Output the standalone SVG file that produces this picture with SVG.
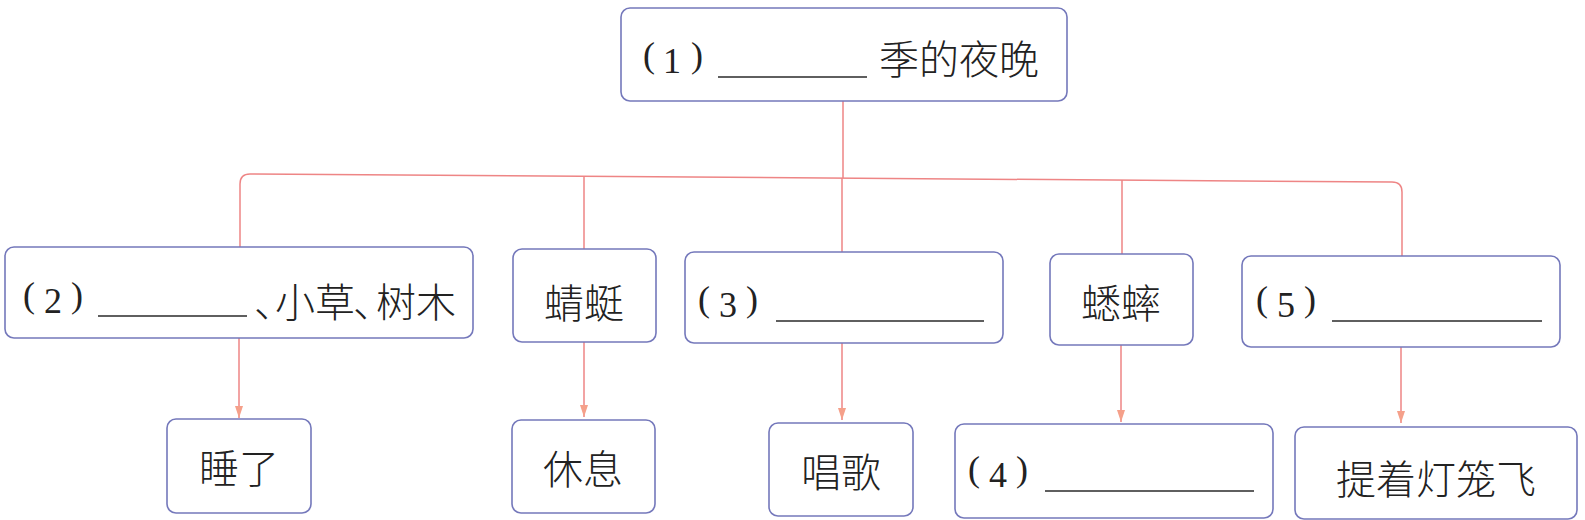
<svg xmlns="http://www.w3.org/2000/svg" width="1585" height="520" viewBox="0 0 1585 520">
<defs>
<style>
.box{fill:#fff;stroke:#7478bb;stroke-width:1.6}
.con{fill:none;stroke:#ee8585;stroke-width:1.5}
.blank{stroke:#2a2a2a;stroke-width:1.6}
.cjk{font-family:"Noto Sans CJK SC","Noto Sans",sans-serif;font-size:40px;font-weight:300;fill:#222;dominant-baseline:central}
.num{font-family:"Liberation Serif",serif;font-size:36px;fill:#222}
</style>
<marker id="ah" viewBox="0 0 12 8" refX="12" refY="4" markerWidth="12" markerHeight="8" markerUnits="userSpaceOnUse" orient="auto">
<path d="M0,0 L12,4 L0,8 z" fill="#f5a08a"/>
</marker>
</defs>
<rect width="1585" height="520" fill="#fff"/>
<g id="connectors">
<path class="con" d="M240,247 V184 Q240,174 250,174 L1392,182 Q1402,182 1402,192 V256"/>
<path class="con" d="M843,101 V178"/>
<path class="con" d="M584,176 V249"/>
<path class="con" d="M842,178 V252"/>
<path class="con" d="M1122,180 V254"/>
<path class="con" d="M239,338 V418" marker-end="url(#ah)"/>
<path class="con" d="M584,342 V417" marker-end="url(#ah)"/>
<path class="con" d="M842,343 V420" marker-end="url(#ah)"/>
<path class="con" d="M1121,345 V422" marker-end="url(#ah)"/>
<path class="con" d="M1401,347 V423" marker-end="url(#ah)"/>
</g>
<g id="n1">
<rect class="box" x="621" y="8" width="446" height="93" rx="9"/>
<text class="num"><tspan x="643" y="67">(</tspan><tspan x="663" y="73">1</tspan><tspan x="691" y="67">)</tspan></text>
<line class="blank" x1="718" y1="77" x2="867" y2="77"/>
<text class="cjk" x="879" y="57">季的夜晚</text>
</g>
<g id="n2">
<rect class="box" x="5" y="247" width="468" height="91" rx="9"/>
<text class="num"><tspan x="23" y="307">(</tspan><tspan x="44" y="313">2</tspan><tspan x="71" y="307">)</tspan></text>
<line class="blank" x1="98" y1="316" x2="247" y2="316"/>
<text class="cjk" x="254" y="300" dx="0 -19 0 -2 -17 0">、小草、树木</text>
</g>
<g id="n3">
<rect class="box" x="513" y="249" width="143" height="93" rx="9"/>
<text class="cjk" x="584" y="301" text-anchor="middle">蜻蜓</text>
</g>
<g id="n4">
<rect class="box" x="685" y="252" width="318" height="91" rx="9"/>
<text class="num"><tspan x="698" y="311">(</tspan><tspan x="719" y="317">3</tspan><tspan x="746" y="311">)</tspan></text>
<line class="blank" x1="776" y1="321" x2="984" y2="321"/>
</g>
<g id="n5">
<rect class="box" x="1050" y="254" width="143" height="91" rx="9"/>
<text class="cjk" x="1121" y="301" text-anchor="middle">蟋蟀</text>
</g>
<g id="n6">
<rect class="box" x="1242" y="256" width="318" height="91" rx="9"/>
<text class="num"><tspan x="1256" y="311">(</tspan><tspan x="1277" y="317">5</tspan><tspan x="1304" y="311">)</tspan></text>
<line class="blank" x1="1332" y1="321" x2="1542" y2="321"/>
</g>
<g id="n7">
<rect class="box" x="167" y="419" width="144" height="94" rx="9"/>
<text class="cjk" x="239" y="466" text-anchor="middle">睡了</text>
</g>
<g id="n8">
<rect class="box" x="512" y="420" width="143" height="93" rx="9"/>
<text class="cjk" x="583" y="467" text-anchor="middle">休息</text>
</g>
<g id="n9">
<rect class="box" x="769" y="423" width="144" height="93" rx="9"/>
<text class="cjk" x="841" y="470" text-anchor="middle">唱歌</text>
</g>
<g id="n10">
<rect class="box" x="955" y="424" width="318" height="94" rx="9"/>
<text class="num"><tspan x="968" y="481">(</tspan><tspan x="989" y="487">4</tspan><tspan x="1016" y="481">)</tspan></text>
<line class="blank" x1="1045" y1="491" x2="1254" y2="491"/>
</g>
<g id="n11">
<rect class="box" x="1295" y="427" width="282" height="92" rx="9"/>
<text class="cjk" x="1436" y="477" text-anchor="middle">提着灯笼飞</text>
</g>
</svg>
